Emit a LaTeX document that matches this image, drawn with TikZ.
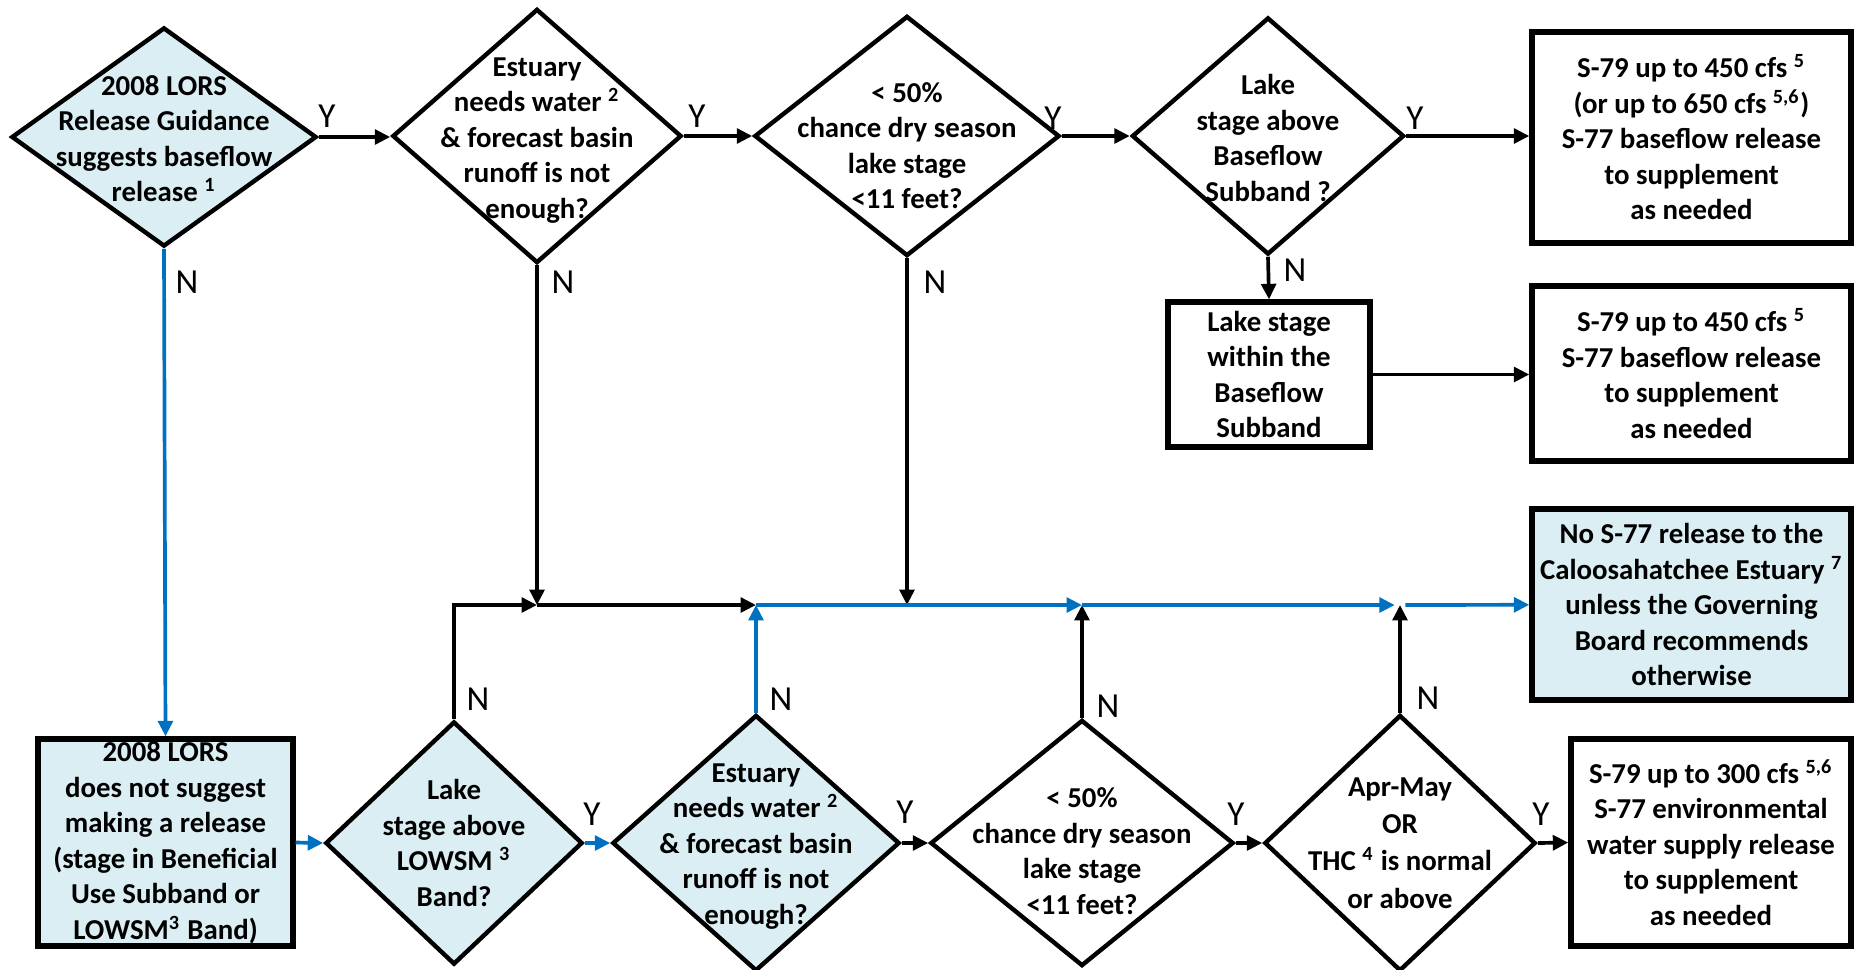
\documentclass[tikz,border=0pt]{standalone}
\usepackage{fontspec}
\setmainfont{Carlito}
\usetikzlibrary{arrows.meta, positioning, shapes.geometric}
\definecolor{paleblue}{HTML}{DAEEF3}
\definecolor{flowblue}{HTML}{0070C0}

\begin{document}
\begin{tikzpicture}[x=0.01cm, y=-0.01cm,
  dia/.style={diamond, draw, line width=1.25pt, inner sep=0pt},
  box/.style={rectangle, draw, line width=1.5pt, inner sep=0pt, align=center,
    font=\fontsize{8.2}{10.1}\selectfont\bfseries},
  txt/.style={align=center, inner sep=0pt, font=\fontsize{8.2}{10.1}\selectfont\bfseries},
  arr/.style={line width=1.05pt, -{Triangle[length=4.4pt,width=4.2pt]}},
  barr/.style={arr, flowblue},
  yn/.style={font=\fontsize{10}{12}\selectfont, inner sep=0pt}]
\useasboundingbox (0,0) rectangle (1855,969);
% Top row: baseflow path
\node[dia, fill=paleblue, minimum width=3.05cm, minimum height=2.19cm] (d1) at (164,137) {};
\node[txt] (t1) at ([yshift=-0.5pt]d1) {2008 LORS\\Release Guidance\\suggests baseflow\\release \textsuperscript{1}};
\node[dia, minimum width=2.89cm, minimum height=2.54cm] (d2) at (537,136) {};
\node[txt] (t2) at ([yshift=-1.2pt]d2) {Estuary\\needs water \textsuperscript{2}\\\& forecast basin\\runoff is not\\enough?};
\node[dia, minimum width=3.05cm, minimum height=2.40cm] (d3) at (907,136) {};
\node[txt] (t3) at ([yshift=-2.7pt]d3) {< 50\%\\chance dry season\\lake stage\\<11 feet?};
\node[dia, minimum width=2.72cm, minimum height=2.37cm] (d4) at (1268,136) {};
\node[txt] (t4) at ([yshift=-0.5pt]d4) {Lake\\stage above\\Baseflow\\Subband ?};
\node[box, minimum width=3.19cm, minimum height=2.11cm] (b1) at (1691.5,137.5)
  {S-79 up to 450 cfs \textsuperscript{5}\\(or up to 650 cfs \textsuperscript{5,6})\\S-77 baseflow release\\to supplement\\as needed};
\node[box, minimum width=2.02cm, minimum height=1.45cm] (b2) at (1269,374.5)
  {Lake stage\\within the\\Baseflow\\Subband};
\node[box, minimum width=3.19cm, minimum height=1.75cm] (b3) at (1691.5,373.5)
  {S-79 up to 450 cfs \textsuperscript{5}\\S-77 baseflow release\\to supplement\\as needed};
\node[box, fill=paleblue, minimum width=3.19cm, minimum height=1.91cm] (b4) at (1691.5,604.5)
  {No S-77 release to the\\Caloosahatchee Estuary \textsuperscript{7}\\unless the Governing\\Board recommends\\otherwise};
% Bottom row: no suggested release
\node[box, fill=paleblue, minimum width=2.55cm, minimum height=2.07cm] (a) at (165.5,842.5)
  {2008 LORS\\does not suggest\\making a release\\(stage in Beneficial\\Use Subband or\\LOWSM\textsuperscript{3} Band)};
\node[dia, fill=paleblue, minimum width=2.57cm, minimum height=2.43cm] (d5) at (454,843) {};
\node[txt] (t5) at (d5) {Lake\\stage above\\LOWSM \textsuperscript{3}\\Band?};
\node[dia, fill=paleblue, minimum width=2.87cm, minimum height=2.56cm] (d6) at (756,843) {};
\node[txt] (t6) at ([yshift=-1pt]d6) {Estuary\\needs water \textsuperscript{2}\\\& forecast basin\\runoff is not\\enough?};
\node[dia, minimum width=3.03cm, minimum height=2.46cm] (d7) at (1082,843) {};
\node[txt] (t7) at ([yshift=-2.3pt]d7) {< 50\%\\chance dry season\\lake stage\\<11 feet?};
\node[dia, minimum width=2.71cm, minimum height=2.56cm] (d8) at (1400,843) {};
\node[txt, font=\fontsize{8.2}{10.6}\selectfont\bfseries] (t8) at (d8) {Apr-May\\OR\\THC \textsuperscript{4} is normal\\or above};
\node[box, minimum width=2.80cm, minimum height=2.07cm] (b5) at (1711,842.5)
  {S-79 up to 300 cfs \textsuperscript{5,6}\\S-77 environmental\\water supply release\\to supplement\\as needed};
% Junctions on the collecting line
\coordinate (j1) at (537,605);
\coordinate (j2) at (756,605);
\coordinate (j3) at (1082,605);
\coordinate (j4) at (1400,605);
% Yes branches
\draw[arr] (d1.east) -- (d2.west |- d1.east);
\draw[arr] (d2.east) -- (d3.west);
\draw[arr] (d3.east) -- (d4.west);
\draw[arr] (d4.east) -- (b1.west |- d4.east);
\draw[arr] (b2.east) -- (b3.west |- b2.east);
\draw[barr] (a.east) -- (d5.west);
\draw[barr] (d5.east) -- (d6.west);
\draw[arr] (d6.east) -- (d7.west);
\draw[arr] (d7.east) -- (d8.west);
\draw[arr] (d8.east) -- (b5.west);
% No branches
\draw[barr] (d1.south) -- (a.north);
\draw[arr] (d4.south) -- (b2.north);
\draw[arr] (d2.south) -- (j1);
\draw[arr] (d5.north) |- (j1);
\draw[arr] (j1) -- (j2);
\draw[barr] (d6.north) -- (j2);
\draw[arr] (d3.south) -- (d3 |- j2);
\draw[barr] (j2) -- (j3);
\draw[arr] (d7.north) -- (j3);
\draw[barr, shorten >=1.5pt] (j3) -- (j4);
\draw[arr] (d8.north) -- (j4);
\draw[barr, shorten <=1.5pt] (j4) -- (b4);
% Y and N labels
\node[yn] (y1) at (327,116) {Y};
\node[yn] (y2) at (697,116) {Y};
\node[yn] (y3) at (1053,118) {Y};
\node[yn] (y4) at (1415,118) {Y};
\node[yn] (y5) at (592,814) {Y};
\node[yn] (y6) at (905,812) {Y};
\node[yn] (y7) at (1236,814) {Y};
\node[yn] (y8) at (1541,814) {Y};
\node[yn] (n1) at (187,282) {N};
\node[yn] (n2) at (563,282) {N};
\node[yn] (n3) at (935,282) {N};
\node[yn] (n4) at (1295,270) {N};
\node[yn] (n5) at (478,699) {N};
\node[yn] (n6) at (781,699) {N};
\node[yn] (n7) at (1108,706) {N};
\node[yn] (n8) at (1428,698) {N};
\end{tikzpicture}
\end{document}
